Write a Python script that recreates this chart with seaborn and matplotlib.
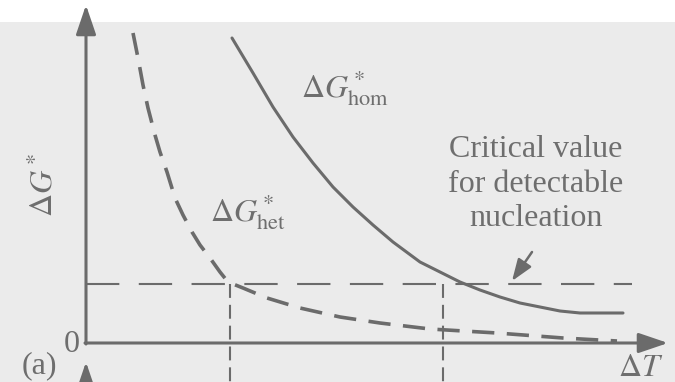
import matplotlib
matplotlib.use("Agg")
import matplotlib.pyplot as plt
import seaborn as sns
import pandas as pd

# Nucleation barrier vs. undercooling (schematic units)
het_dT = [0.47, 0.52, 0.57, 0.62, 0.69, 0.74, 0.81, 0.89, 0.97, 1.06, 1.14, 1.24,
          1.34, 1.42, 1.57, 1.81, 2.14, 2.54, 2.94, 3.44, 4.11, 4.77, 5.31]
het_dG = [3.10, 2.85, 2.58, 2.35, 2.08, 1.91, 1.71, 1.45, 1.28, 1.11, 0.98, 0.85,
          0.71, 0.61, 0.55, 0.45, 0.35, 0.26, 0.20, 0.14, 0.10, 0.05, 0.02]
hom_dT = [1.46, 1.67, 1.87, 2.07, 2.27, 2.47, 2.67, 2.87, 3.07, 3.34, 3.54, 3.74,
          3.94, 4.14, 4.34, 4.54, 4.74, 4.94, 5.14, 5.37]
hom_dG = [3.05, 2.70, 2.36, 2.06, 1.80, 1.56, 1.36, 1.18, 1.01, 0.81, 0.71, 0.61,
          0.53, 0.46, 0.40, 0.36, 0.32, 0.30, 0.30, 0.30]
critical_dG = 0.59
critical_end = 5.46
onset_het = 1.44
onset_hom = 3.57

GRAY = "#6b6b6b"
TEXT = "#6e6e6e"
BG = "#ebebeb"

sns.set_theme(style="white")
plt.rcParams["font.family"] = ["Liberation Serif", "DejaVu Serif"]
plt.rcParams["mathtext.fontset"] = "stix"
plt.rcParams["lines.scale_dashes"] = False

fig = plt.figure(figsize=(6.75, 3.82), dpi=100, facecolor="white")
ax = fig.add_axes([0, 0, 1, 1])
ax.set_xlim(-0.86, 5.89)
ax.set_ylim(-0.39, 3.43)
ax.axis("off")
ax.axhspan(-0.39, 3.21, color=BG, zorder=0, lw=0)

het = pd.DataFrame({"dT": het_dT, "dG": het_dG})
hom = pd.DataFrame({"dT": hom_dT, "dG": hom_dG})

# critical level and onset lines
ax.plot([0, critical_end], [critical_dG, critical_dG], color=GRAY, lw=1.5,
        dashes=(24, 14), dash_capstyle="butt", zorder=2)
for x0 in (onset_het, onset_hom):
    ax.plot([x0, x0], [critical_dG, -0.45], color=GRAY, lw=1.5,
            dashes=(10, 5), dash_capstyle="butt", zorder=2)

sns.lineplot(data=het, x="dT", y="dG", ax=ax, color=GRAY, lw=2.6, zorder=3)
ax.lines[-1].set_dashes((16, 9))
ax.lines[-1].set_dash_capstyle("butt")
sns.lineplot(data=hom, x="dT", y="dG", ax=ax, color=GRAY, lw=2.2, zorder=3)

# axes with arrowheads
arrow = dict(arrowstyle="-|>,head_length=0.5,head_width=0.17", color=GRAY,
             lw=2.2, mutation_scale=36, shrinkA=0, shrinkB=0)
ax.annotate("", xy=(0, 3.38), xytext=(0, -0.01), arrowprops=arrow, zorder=4)
ax.annotate("", xy=(5.82, 0), xytext=(-0.01, 0), arrowprops=arrow, zorder=4)
ax.annotate("", xy=(0, -0.19), xytext=(0, -0.50),
            arrowprops=dict(arrow, mutation_scale=28), zorder=4)

# pointer to the critical level
ax.annotate("", xy=(4.26, 0.62), xytext=(4.46, 0.91),
            arrowprops=dict(arrowstyle="-|>,head_length=0.6,head_width=0.22",
                            color=GRAY, lw=1.8, mutation_scale=22,
                            shrinkA=0, shrinkB=0), zorder=4)

fs = 23
ax.text(2.59, 2.55, r"$\Delta G^*_{\mathrm{hom}}$", fontsize=fs, color=TEXT,
        ha="center", va="center")
ax.text(1.62, 1.31, r"$\Delta G^*_{\mathrm{het}}$", fontsize=fs, color=TEXT,
        ha="center", va="center")
ax.text(4.50, 1.59, "Critical value\nfor detectable\nnucleation", fontsize=fs,
        color=TEXT, ha="center", va="center", linespacing=1.25)
ax.text(-0.42, 1.58, r"$\Delta G^*$", fontsize=fs, color=TEXT, rotation=90,
        ha="center", va="center")
ax.text(-0.14, -0.01, "0", fontsize=fs, color=TEXT, ha="center", va="center")
ax.text(-0.47, -0.23, "(a)", fontsize=fs, color=TEXT, ha="center", va="center")
ax.text(5.55, -0.25, r"$\Delta T$", fontsize=fs, color=TEXT, ha="center", va="center")

fig.savefig("out.png", dpi=100, facecolor="white")
